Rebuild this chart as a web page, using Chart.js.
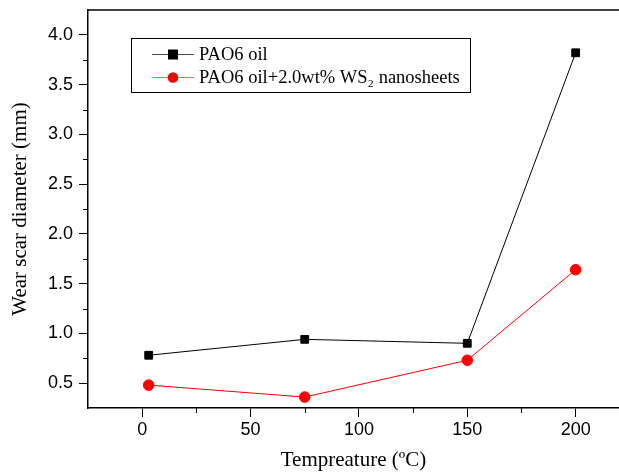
<!DOCTYPE html>
<html>
<head>
<meta charset="utf-8">
<script src="https://cdn.jsdelivr.net/npm/chart.js@4"></script>
<style>
html,body{margin:0;padding:0;background:#fff;}
#wrap{width:619px;height:473px;}
</style>
</head>
<body>
<div id="wrap"><canvas id="c" width="619" height="473"></canvas></div>
<script>
const temperatures = [3, 75, 150, 200];
const pao6Oil = [0.78, 0.94, 0.90, 3.82];
const pao6WithWS2 = [0.48, 0.36, 0.73, 1.64];
const seriesNames = ["PAO6 oil", "PAO6 oil+2.0wt% WS\u2082 nanosheets"];
const xTickValues = [0, 50, 100, 150, 200];
const yTickValues = [0.5, 1.0, 1.5, 2.0, 2.5, 3.0, 3.5, 4.0];
const xMinorTicks = [25, 75, 125, 175];
const yMinorTicks = [0.75, 1.25, 1.75, 2.25, 2.75, 3.25, 3.75];

const serif = "'Liberation Serif', 'Times New Roman', serif";
const sans = "'Liberation Sans', Arial, sans-serif";

const extrasPlugin = {
  id: 'extras',
  afterDraw(chart) {
    const ctx = chart.ctx;
    const a = chart.chartArea;
    const xs = chart.scales.x, ys = chart.scales.y;
    ctx.save();
    ctx.strokeStyle = '#000';
    ctx.lineWidth = 1.5;
    ctx.beginPath();
    ctx.moveTo(a.left, a.top);
    ctx.lineTo(a.right, a.top);
    ctx.stroke();
    ctx.lineWidth = 1;
    yMinorTicks.forEach(v => {
      const p = Math.round(ys.getPixelForValue(v)) + 0.5;
      ctx.beginPath(); ctx.moveTo(a.left - 5, p); ctx.lineTo(a.left, p); ctx.stroke();
    });
    xMinorTicks.forEach(v => {
      const p = Math.round(xs.getPixelForValue(v)) + 0.5;
      ctx.beginPath(); ctx.moveTo(p, a.bottom); ctx.lineTo(p, a.bottom + 5); ctx.stroke();
    });
    const bx = 131, by = 38, bw = 339, bh = 54;
    ctx.lineWidth = 1;
    ctx.strokeStyle = '#000';
    ctx.strokeRect(bx + 0.5, by + 0.5, bw, bh);
    const rows = [
      {y: 54, color: '#000', line: '#444', shape: 'rect', label: seriesNames[0]},
      {y: 77, color: '#ff0000', line: '#ff6666', shape: 'circle', label: seriesNames[1]}
    ];
    rows.forEach(r => {
      ctx.strokeStyle = r.line;
      ctx.lineWidth = 1;
      ctx.beginPath(); ctx.moveTo(152, r.y + 0.5); ctx.lineTo(194, r.y + 0.5); ctx.stroke();
      ctx.fillStyle = r.color;
      if (r.shape === 'rect') {
        ctx.fillRect(168, r.y - 4.5, 10, 10);
      } else {
        ctx.beginPath(); ctx.arc(173, r.y + 0.5, 5.3, 0, Math.PI * 2); ctx.fill();
      }
      ctx.fillStyle = '#000';
      ctx.font = "18.5px " + serif;
      ctx.textBaseline = 'middle';
      ctx.textAlign = 'left';
      ctx.fillText(r.label, 199, r.y + 1);
    });
    ctx.restore();
  }
};

new Chart(document.getElementById('c'), {
  type: 'line',
  data: {
    datasets: [
      {
        label: seriesNames[0],
        data: temperatures.map((t, i) => ({x: t, y: pao6Oil[i]})),
        borderColor: '#000',
        backgroundColor: '#000',
        borderWidth: 1,
        pointStyle: 'rect',
        pointRadius: 5.5,
        pointHoverRadius: 5.5,
        tension: 0
      },
      {
        label: seriesNames[1],
        data: temperatures.map((t, i) => ({x: t, y: pao6WithWS2[i]})),
        borderColor: '#ff0000',
        backgroundColor: '#ff0000',
        borderWidth: 1,
        pointStyle: 'circle',
        pointRadius: 5.3,
        pointHoverRadius: 5.3,
        tension: 0
      }
    ]
  },
  options: {
    responsive: false,
    animation: false,
    devicePixelRatio: 1,
    layout: {autoPadding: false, padding: {top: 10, right: 0, left: 0, bottom: 0}},
    plugins: {legend: {display: false}, tooltip: {enabled: false}},
    scales: {
      x: {
        type: 'linear',
        min: -25,
        max: 220,
        afterBuildTicks: s => { s.ticks = xTickValues.map(v => ({value: v})); },
        afterFit: s => { s.height = 65; s.paddingLeft = 0; s.paddingRight = 0; },
        border: {display: true, color: '#000', width: 1.5},
        grid: {drawOnChartArea: false, drawTicks: true, tickLength: 9, tickColor: '#000', tickWidth: 1},
        ticks: {color: '#000', font: {family: sans, size: 18}, padding: 2, maxRotation: 0},
        title: {display: true, text: 'Tempreature (\u00baC)', color: '#000', font: {family: serif, size: 21}, padding: {top: 0, bottom: 0}}
      },
      y: {
        type: 'linear',
        min: 0.25,
        max: 4.25,
        afterBuildTicks: s => { s.ticks = yTickValues.map(v => ({value: v})); },
        afterFit: s => { s.width = 88; s.paddingTop = 0; s.paddingBottom = 0; },
        border: {display: true, color: '#000', width: 1.5},
        grid: {drawOnChartArea: false, drawTicks: true, tickLength: 9, tickColor: '#000', tickWidth: 1},
        ticks: {color: '#000', font: {family: sans, size: 18}, padding: 6, callback: v => v.toFixed(1)},
        title: {display: true, text: 'Wear scar diameter (mm)', color: '#000', font: {family: serif, size: 21}, padding: {top: 8, bottom: 0}}
      }
    }
  },
  plugins: [extrasPlugin]
});
</script>
</body>
</html>
